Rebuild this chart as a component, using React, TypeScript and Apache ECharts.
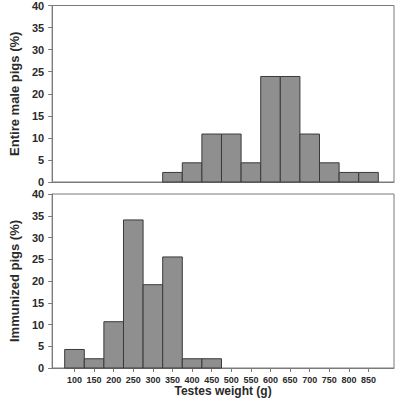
import React, { useEffect, useRef } from "react";
import * as echarts from "echarts";

// Bin centres (g) and percentages
const tickLabels = [100, 150, 200, 250, 300, 350, 400, 450, 500, 550, 600, 650, 700, 750, 800, 850];
const entireBins = [350, 400, 450, 500, 550, 600, 650, 700, 750, 800, 850];
const entireValues = [2.17, 4.35, 10.87, 10.87, 4.35, 23.91, 23.91, 10.87, 4.35, 2.17, 2.17];
const immunizedBins = [100, 150, 200, 250, 300, 350, 400, 450];
const immunizedValues = [4.26, 2.13, 10.64, 34.04, 19.15, 25.53, 2.13, 2.13];
const binWidth = 50;

const FONT = "'Liberation Sans', Arial, sans-serif";

export default function App() {
  const ref = useRef<HTMLDivElement>(null);
  useEffect(() => {
    if (!ref.current) return;
    const chart = echarts.init(ref.current, undefined, { renderer: "svg" });
    const renderItem = (params: any, api: any) => {
      const c = api.value(0);
      const v = api.value(1);
      const p0 = api.coord([c - binWidth / 2, v]);
      const p1 = api.coord([c + binWidth / 2, 0]);
      return {
        type: "rect",
        shape: { x: p0[0], y: p0[1], width: p1[0] - p0[0], height: p1[1] - p0[1] },
        style: { fill: "#8f8f8f", stroke: "#3a3a3a", lineWidth: 1 },
      };
    };
    const xBase = (gridIndex: number, showLabels: boolean) => ({
      type: "value",
      gridIndex,
      min: 43,
      max: 915,
      splitLine: { show: false },
      axisLine: { show: true, lineStyle: { color: "#7a7a7a", width: 1 } },
      axisTick: {
        show: showLabels,
        length: 4,
        lineStyle: { color: "#7a7a7a" },
        customValues: tickLabels,
      },
      axisLabel: {
        show: showLabels,
        customValues: tickLabels,
        fontSize: 9,
        fontWeight: "bold",
        fontFamily: FONT,
        color: "#2a2a2a",
        margin: 7,
      },
      name: showLabels ? "Testes weight (g)" : "",
      nameLocation: "middle",
      nameGap: 17,
      nameTextStyle: { fontSize: 12, fontWeight: "bold", fontFamily: FONT, color: "#2a2a2a" },
    });
    const yBase = (gridIndex: number, name: string) => ({
      type: "value",
      gridIndex,
      min: 0,
      max: 40,
      interval: 5,
      splitLine: { show: false },
      axisLine: { show: true, lineStyle: { color: "#7a7a7a", width: 1 } },
      axisTick: { show: true, length: 4, lineStyle: { color: "#7a7a7a" } },
      axisLabel: { fontSize: 11, fontWeight: "bold", fontFamily: FONT, color: "#2a2a2a", margin: 8 },
      name,
      nameLocation: "middle",
      nameGap: 29,
      nameTextStyle: { fontSize: 13, fontWeight: "bold", fontFamily: FONT, color: "#2a2a2a" },
    });
    chart.setOption({
      animation: false,
      backgroundColor: "#ffffff",
      grid: [
        { left: 42, right: 3, top: 5, height: 177, show: true, borderColor: "#7a7a7a", borderWidth: 1 },
        { left: 42, right: 3, top: 194, height: 174, show: true, borderColor: "#7a7a7a", borderWidth: 1 },
      ],
      xAxis: [xBase(0, false), xBase(1, true)],
      yAxis: [yBase(0, "Entire male pigs (%)"), yBase(1, "Immunized pigs (%)")],
      series: [
        {
          type: "custom",
          xAxisIndex: 0,
          yAxisIndex: 0,
          renderItem,
          data: entireBins.map((b, i) => [b, entireValues[i]]),
        },
        {
          type: "custom",
          xAxisIndex: 1,
          yAxisIndex: 1,
          renderItem,
          data: immunizedBins.map((b, i) => [b, immunizedValues[i]]),
        },
      ],
    });
    return () => chart.dispose();
  }, []);
  return (
    <div
      ref={ref}
      style={{ position: "fixed", left: 0, top: 0, width: 397, height: 398, background: "#fff" }}
    />
  );
}
